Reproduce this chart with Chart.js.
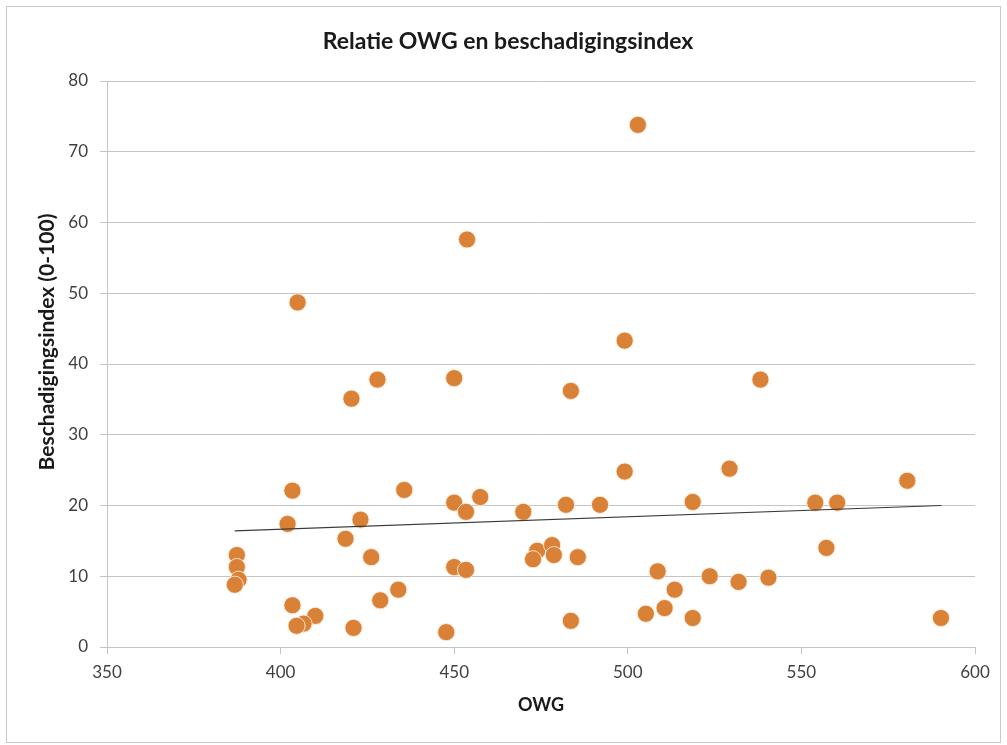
<!DOCTYPE html>
<html>
<head>
<meta charset="utf-8">
<script src="https://cdn.jsdelivr.net/npm/chart.js@4/dist/chart.umd.min.js"></script>
<style>
    html, body { margin: 0; padding: 0; background: #ffffff; }
    #wrap { position: relative; width: 1007px; height: 745px; }
</style>
</head>
<body>
<div id="wrap"><canvas id="owgChart" width="1007" height="745"></canvas></div>
<script>
// --- DATA ---
const owgValues = [
    502.9, 453.7, 404.9, 499.1, 450.0, 427.9, 538.2, 483.6, 420.4, 580.5,
    499.1, 529.3, 403.4, 435.6, 457.5, 450.0, 518.7, 554.0, 560.3, 482.2,
    492.0, 453.4, 469.9, 402.0, 423.0, 418.7, 387.4, 426.1, 473.9, 472.7,
    478.2, 478.7, 485.6, 557.2, 387.4, 450.0, 453.4, 508.6, 387.9, 386.8,
    523.6, 540.5, 531.9, 433.9, 513.5, 428.7, 403.4, 510.6, 505.2, 410.0,
    406.6, 404.6, 518.7, 590.2, 483.6, 421.0, 447.7
];
const indexValues = [
    73.8, 57.6, 48.7, 43.3, 38.0, 37.8, 37.8, 36.2, 35.1, 23.5,
    24.8, 25.2, 22.1, 22.2, 21.2, 20.4, 20.5, 20.4, 20.4, 20.1,
    20.1, 19.1, 19.1, 17.4, 18.0, 15.3, 13.0, 12.7, 13.6, 12.4,
    14.4, 13.0, 12.7, 14.0, 11.3, 11.3, 10.9, 10.7, 9.5, 8.8,
    10.0, 9.8, 9.2, 8.1, 8.1, 6.6, 5.9, 5.5, 4.7, 4.4,
    3.3, 3.0, 4.1, 4.1, 3.7, 2.7, 2.1
];
// trendline end points
const trendX = [386.8, 590.3];
const trendY = [16.4, 20.0];

const xTicks = [350, 400, 450, 500, 550, 600];
const yTicks = [0, 10, 20, 30, 40, 50, 60, 70, 80];

const chartTitle = 'Relatie OWG en beschadigingsindex';
const xTitle = 'OWG';
const yTitle = 'Beschadigingsindex (0-100)';

// --- CHART ---
const FONT = 'Lato, "Open Sans", sans-serif';
const GRID = '#c4c4c4';

// outer frame, centred title and the y title (sits a bit above centre in the original)
const framePlugin = {
    id: 'frame',
    beforeDraw(chart) {
        const ctx = chart.ctx;
        ctx.save();
        ctx.fillStyle = '#ffffff';
        ctx.fillRect(0, 0, chart.width, chart.height);
        ctx.strokeStyle = '#c8c8c8';
        ctx.lineWidth = 1;
        ctx.strokeRect(6.5, 6.5, 994, 736);
        ctx.restore();
    },
    afterDraw(chart) {
        const ctx = chart.ctx;
        ctx.save();
        ctx.fillStyle = '#1a1a1a';
        ctx.textAlign = 'center';
        ctx.textBaseline = 'middle';
        ctx.font = 'bold 23px ' + FONT;
        ctx.fillText(chartTitle, 508, 42);

        ctx.translate(47, 342);
        ctx.rotate(-Math.PI / 2);
        ctx.font = 'bold 21px ' + FONT;
        ctx.fillText(yTitle, 0, 0);
        ctx.restore();
    }
};

function buildPoints() {
    return owgValues.map((x, i) => ({ x: x, y: indexValues[i] }));
}

function buildTrend() {
    return trendX.map((x, i) => ({ x: x, y: trendY[i] }));
}

const ctx = document.getElementById('owgChart').getContext('2d');

new Chart(ctx, {
    type: 'scatter',
    data: {
        datasets: [{
            label: 'Beschadigingsindex',
            data: buildPoints(),
            backgroundColor: 'rgb(218, 129, 56)',
            borderColor: 'rgba(255, 236, 220, 0.9)',
            borderWidth: 1,
            pointRadius: 8.6,
            pointHoverRadius: 8.6,
            order: 2
        }, {
            type: 'line',
            label: 'Trend',
            data: buildTrend(),
            borderColor: '#3a3a3a',
            borderWidth: 1.2,
            pointRadius: 0,
            fill: false,
            order: 1
        }]
    },
    plugins: [framePlugin],
    options: {
        responsive: false,
        animation: false,
        devicePixelRatio: 1,
        layout: { padding: { left: 26, right: 32, top: 81, bottom: 20 } },
        plugins: {
            legend: { display: false },
            title: { display: false },
            tooltip: { enabled: false }
        },
        scales: {
            x: {
                type: 'linear',
                min: 350,
                max: 600,
                afterBuildTicks: (scale) => { scale.ticks = xTicks.map(v => ({ value: v })); },
                afterFit: (scale) => { scale.height = 78; },
                grid: { drawOnChartArea: false, drawTicks: true, tickLength: 7, color: GRID },
                border: { color: GRID, width: 1 },
                ticks: { color: '#404040', font: { family: FONT, size: 17 }, padding: 8, maxRotation: 0 },
                title: {
                    display: true,
                    text: xTitle,
                    color: '#1a1a1a',
                    font: { family: FONT, size: 18, weight: 'bold' },
                    padding: { top: 0, bottom: 9 }
                }
            },
            y: {
                type: 'linear',
                min: 0,
                max: 80,
                afterBuildTicks: (scale) => { scale.ticks = yTicks.map(v => ({ value: v })); },
                afterFit: (scale) => { scale.width = 81; },
                grid: { color: GRID, tickLength: 7, lineWidth: 1 },
                border: { color: GRID, width: 1 },
                ticks: { color: '#404040', font: { family: FONT, size: 17 }, padding: 12 },
                title: { display: false }
            }
        }
    }
});
</script>
</body>
</html>
